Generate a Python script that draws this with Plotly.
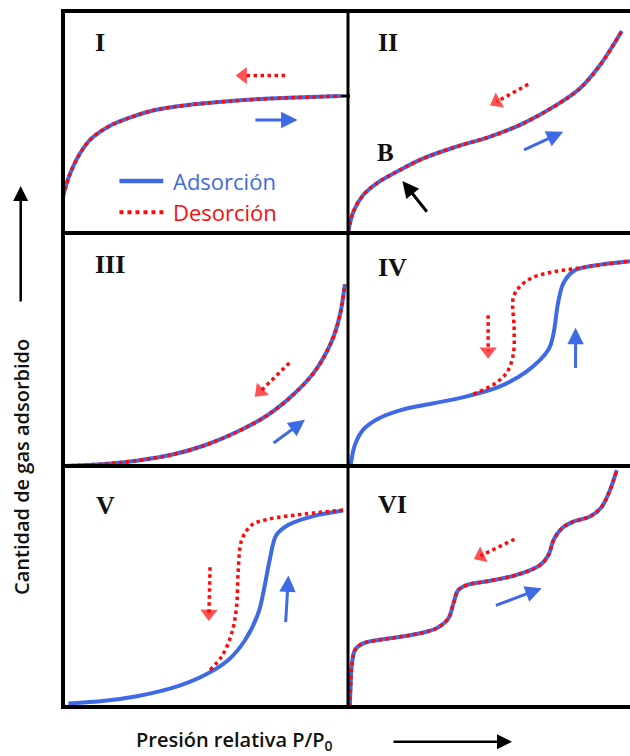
import plotly.graph_objects as go

W, H = 630, 756

# ---------------- data (normalised P/P0 and amount within each panel) ----------------
I_x = [0.0, 0.023, 0.06, 0.10, 0.159, 0.229, 0.323, 0.44, 0.557, 0.674, 0.79, 0.975]
I_y = [0.164, 0.261, 0.359, 0.426, 0.479, 0.517, 0.554, 0.577, 0.591, 0.602, 0.609, 0.617]

II_x = [0.001, 0.019, 0.054, 0.102, 0.173, 0.267, 0.385, 0.504, 0.622, 0.74, 0.823, 0.894, 0.941, 0.971]
II_y = [0.006, 0.096, 0.171, 0.224, 0.276, 0.336, 0.389, 0.434, 0.494, 0.577, 0.652, 0.757, 0.847, 0.91]

III_x = [0.0, 0.147, 0.264, 0.381, 0.498, 0.615, 0.72, 0.814, 0.884, 0.943, 0.972, 0.989]
III_y = [0.0, 0.009, 0.024, 0.048, 0.089, 0.149, 0.22, 0.313, 0.407, 0.536, 0.65, 0.78]

IV_ads_x = [0.009, 0.025, 0.054, 0.102, 0.184, 0.303, 0.421, 0.539, 0.634, 0.711, 0.728, 0.746, 0.764, 0.799, 0.858, 1.0]
IV_ads_y = [0.0, 0.092, 0.156, 0.2, 0.239, 0.269, 0.299, 0.342, 0.406, 0.5, 0.564, 0.707, 0.785, 0.836, 0.857, 0.879]
IV_des_x = [0.445, 0.515, 0.562, 0.586, 0.589, 0.586, 0.610, 0.657, 0.728, 0.823, 0.858, 1.0]
IV_des_y = [0.309, 0.349, 0.399, 0.478, 0.592, 0.721, 0.771, 0.81, 0.833, 0.850, 0.857, 0.879]

V_ads_x = [0.019, 0.147, 0.264, 0.381, 0.498, 0.58, 0.639, 0.685, 0.707, 0.725, 0.749, 0.79, 0.872, 0.983]
V_ads_y = [0.015, 0.026, 0.046, 0.078, 0.133, 0.195, 0.278, 0.389, 0.499, 0.609, 0.714, 0.755, 0.79, 0.815]
V_des_x = [0.516, 0.557, 0.592, 0.609, 0.615, 0.627, 0.662, 0.72, 0.849, 0.983]
V_des_y = [0.154, 0.21, 0.306, 0.417, 0.569, 0.693, 0.755, 0.779, 0.801, 0.817]

VI_x = [0.006, 0.009, 0.013, 0.025, 0.054, 0.149, 0.243, 0.314, 0.356, 0.374, 0.391, 0.421, 0.504, 0.598,
        0.681, 0.711, 0.729, 0.758, 0.799, 0.858, 0.9, 0.929, 0.953]
VI_y = [0.0, 0.08, 0.167, 0.237, 0.264, 0.285, 0.303, 0.327, 0.368, 0.430, 0.485, 0.506, 0.524, 0.548,
        0.589, 0.631, 0.693, 0.741, 0.769, 0.79, 0.831, 0.9, 0.983]

ads_curves = {1: (I_x, I_y), 2: (II_x, II_y), 3: (III_x, III_y),
              4: (IV_ads_x, IV_ads_y), 5: (V_ads_x, V_ads_y), 6: (VI_x, VI_y)}
des_curves = {1: (I_x, I_y), 2: (II_x, II_y), 3: (III_x, III_y),
              4: (IV_des_x, IV_des_y), 5: (V_des_x, V_des_y), 6: (VI_x, VI_y)}

panel_labels = ["I", "II", "III", "IV", "V", "VI"]

# direction arrows: panel, tail x, tail y, tip x, tip y
blue_arrows = [(1, 0.67, 0.509, 0.823, 0.509),
               (2, 0.619, 0.371, 0.763, 0.456),
               (3, 0.734, 0.094, 0.849, 0.198),
               (4, 0.807, 0.414, 0.807, 0.593),
               (5, 0.781, 0.346, 0.791, 0.546),
               (6, 0.519, 0.419, 0.687, 0.493)]
red_arrows = [(1, 0.779, 0.709, 0.632, 0.709),
              (2, 0.639, 0.67, 0.527, 0.591),
              (3, 0.794, 0.442, 0.692, 0.320),
              (4, 0.497, 0.647, 0.497, 0.492),
              (5, 0.516, 0.580, 0.512, 0.388),
              (6, 0.59, 0.696, 0.470, 0.627)]
black_arrow_II = (0.284, 0.089, 0.193, 0.234)

legend_names = ["Adsorción", "Desorción"]

BLUE = "#3f6ae6"
RED = "#ff0a0a"

# ---------------- layout geometry (pixels) ----------------
CELLS = {1: (63, 348, 11, 233), 2: (348, 630, 11, 233),
         3: (63, 348, 233, 466), 4: (348, 630, 233, 466),
         5: (63, 348, 466, 707), 6: (348, 630, 466, 707)}


def px(x):
    return x / W


def py(y):
    return 1 - y / H


fig = go.Figure()
layout = dict(width=W, height=H, margin=dict(l=0, r=0, t=0, b=0),
              paper_bgcolor="white", plot_bgcolor="rgba(0,0,0,0)", showlegend=False)

for i, (x0, x1, y0, y1) in CELLS.items():
    sfx = "" if i == 1 else str(i)
    layout["xaxis" + sfx] = dict(domain=[px(x0), px(x1)], range=[0, 1], visible=False,
                                 fixedrange=True, anchor="y" + sfx)
    layout["yaxis" + sfx] = dict(domain=[py(y1), py(y0)], range=[0, 1], visible=False,
                                 fixedrange=True, anchor="x" + sfx)

fig.update_layout(**layout)


def ax_ids(i):
    s = "" if i == 1 else str(i)
    return "x" + s, "y" + s


# curves
for i in range(1, 7):
    xa, ya = ax_ids(i)
    ax_, ay_ = ads_curves[i]
    dx_, dy_ = des_curves[i]
    fig.add_trace(go.Scatter(x=ax_, y=ay_, mode="lines", xaxis=xa, yaxis=ya,
                             line=dict(color=BLUE, width=4, shape="spline", smoothing=1.0),
                             hoverinfo="skip"))
    fig.add_trace(go.Scatter(x=dx_, y=dy_, mode="lines", xaxis=xa, yaxis=ya,
                             line=dict(color=RED, width=3.5, dash="dot", shape="spline", smoothing=1.0),
                             hoverinfo="skip"))

# red dotted arrows
for (i, tx, ty, hx, hy) in red_arrows:
    xa, ya = ax_ids(i)
    fig.add_trace(go.Scatter(x=[tx, hx], y=[ty, hy], mode="lines+markers", xaxis=xa, yaxis=ya,
                             line=dict(color=RED, width=3.5, dash="dot"),
                             marker=dict(symbol="triangle-up", angleref="previous", size=[0, 15],
                                         color=RED, line=dict(width=0)),
                             hoverinfo="skip"))

annotations = []
# blue arrows
for (i, tx, ty, hx, hy) in blue_arrows:
    xa, ya = ax_ids(i)
    annotations.append(dict(x=hx, y=hy, ax=tx, ay=ty, xref=xa, yref=ya, axref=xa, ayref=ya,
                            text="", showarrow=True, arrowhead=2, arrowsize=1.1, arrowwidth=3,
                            arrowcolor=BLUE, standoff=0))
# black arrow in panel II
tx, ty, hx, hy = black_arrow_II
annotations.append(dict(x=hx, y=hy, ax=tx, ay=ty, xref="x2", yref="y2", axref="x2", ayref="y2",
                        text="", showarrow=True, arrowhead=2, arrowsize=1.1, arrowwidth=3,
                        arrowcolor="black", standoff=0))

# panel roman numerals
label_pos = [(93, 42), (376, 42), (93, 264), (376, 267), (94, 505), (376, 504)]
for lab, (lx, ly) in zip(panel_labels, label_pos):
    annotations.append(dict(x=px(lx), y=py(ly), xref="paper", yref="paper", text=lab,
                            showarrow=False, xanchor="left", yanchor="middle",
                            font=dict(family="Liberation Serif", size=26, color="#111111", weight="bold")))
annotations.append(dict(x=px(375), y=py(153), xref="paper", yref="paper", text="B",
                        showarrow=False, xanchor="left", yanchor="middle",
                        font=dict(family="Liberation Serif", size=25, color="#111111", weight="bold")))

# legend (inside panel I)
fig.add_trace(go.Scatter(x=[0.198, 0.352], y=[0.234, 0.234], mode="lines", xaxis="x", yaxis="y",
                         line=dict(color=BLUE, width=4.5), hoverinfo="skip"))
fig.add_trace(go.Scatter(x=[0.198, 0.352], y=[0.093, 0.093], mode="lines", xaxis="x", yaxis="y",
                         line=dict(color=RED, width=4, dash="dot"), hoverinfo="skip"))
annotations.append(dict(x=0.378, y=0.234, xref="x", yref="y", text=legend_names[0], showarrow=False,
                        xanchor="left", yanchor="middle",
                        font=dict(family="Open Sans", size=22, color=BLUE)))
annotations.append(dict(x=0.378, y=0.093, xref="x", yref="y", text=legend_names[1], showarrow=False,
                        xanchor="left", yanchor="middle",
                        font=dict(family="Open Sans", size=22, color=RED)))

# axis titles
annotations.append(dict(x=px(22), y=py(467), xref="paper", yref="paper", text="Cantidad de gas adsorbido",
                        showarrow=False, textangle=-90, xanchor="center", yanchor="middle",
                        font=dict(family="Open Sans", size=20, color="#111111", weight=600)))
annotations.append(dict(x=px(134), y=py(740), xref="paper", yref="paper", text="Presión relativa P/P<sub>0</sub>",
                        showarrow=False, xanchor="left", yanchor="middle",
                        font=dict(family="Open Sans", size=20, color="#111111", weight=600)))
# axis arrows
annotations.append(dict(x=px(20.7), y=py(186), xref="paper", yref="paper", ax=0, ay=117,
                        text="", showarrow=True, arrowhead=2, arrowsize=1.2, arrowwidth=2.5,
                        arrowcolor="black", standoff=0))
annotations.append(dict(x=px(512), y=py(741.7), xref="paper", yref="paper", ax=-120, ay=0,
                        text="", showarrow=True, arrowhead=2, arrowsize=1.2, arrowwidth=2.5,
                        arrowcolor="black", standoff=0))

# frame lines
shapes = []
def hline(y, x0, x1, w):
    shapes.append(dict(type="line", xref="paper", yref="paper", x0=px(x0), x1=px(x1),
                       y0=py(y), y1=py(y), line=dict(color="black", width=w)))
def vline(x, y0, y1, w):
    shapes.append(dict(type="line", xref="paper", yref="paper", x0=px(x), x1=px(x),
                       y0=py(y0), y1=py(y1), line=dict(color="black", width=w)))

for yy in (11, 233, 466, 707):
    hline(yy, 61, 630, 4)
vline(63, 9, 709, 4)
vline(348, 11, 707, 3)
hline(96, 341, 350, 3)

fig.update_layout(annotations=annotations, shapes=shapes)

fig.write_html("out.html", config={"displayModeBar": False},
               post_script="document.body.style.margin='0';document.body.style.overflow='hidden';")
